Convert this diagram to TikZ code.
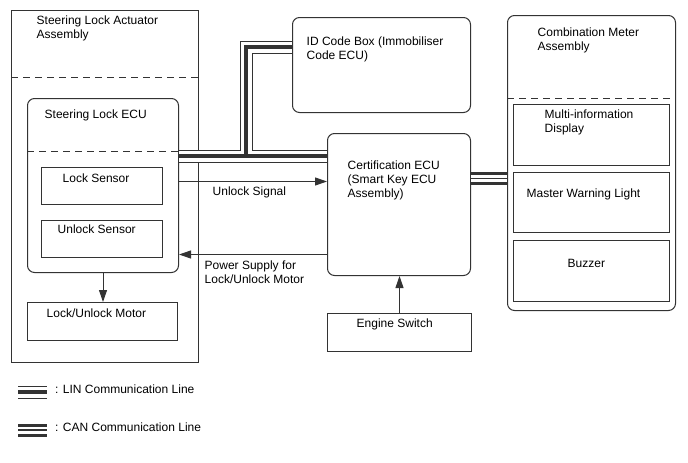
\documentclass[tikz,border=0pt]{standalone}
\usepackage{fontspec}
\setmainfont{Liberation Sans}
\usetikzlibrary{arrows.meta,calc}

\tikzset{
  box/.style={draw=black!80, line width=1pt, anchor=north west, inner sep=0pt},
  rbox/.style={box, rounded corners=7pt},
  txt/.style={anchor=north west, inner sep=0pt, align=left, font=\fontsize{12}{14}\selectfont},
  sig/.style={draw=black!80, line width=1pt, -{Triangle[length=12pt,width=8pt]}},
  sep/.style={draw=black!80, line width=1pt, dash pattern=on 7pt off 5pt},
  lin/.style={draw=black!80, line width=4pt,
    preaction={draw=black!80, line width=1pt, double=white, double distance=11pt}},
  can/.style={draw=black!80, line width=1.5pt,
    preaction={draw=black!80, line width=3pt, double=white, double distance=7pt}}
}

\begin{document}
\begin{tikzpicture}[x=1pt, y=-1pt]
    \useasboundingbox (0,0) rectangle (688,463);

    % --- Steering lock actuator assembly ---
    \node[box, minimum width=187pt, minimum height=352pt] (slaa) at (11,10) {};
    \node[txt] (slaa-t) at (36.5,16) {Steering Lock Actuator\\Assembly};
    \draw[sep] ([yshift=-67pt]slaa.north west) -- ([yshift=-67pt]slaa.north east);

    \node[rbox, minimum width=151pt, minimum height=174pt] (slecu) at (27,98) {};
    \node[txt] (slecu-t) at (44.5,110) {Steering Lock ECU};
    \draw[sep] ([yshift=-53pt]slecu.north west) -- ([yshift=-53pt]slecu.north east);

    \node[box, minimum width=121pt, minimum height=37pt] (lsens) at (41,167) {};
    \node[txt] (lsens-t) at (62.5,174) {Lock Sensor};
    \node[box, minimum width=121pt, minimum height=37pt] (usens) at (41,220) {};
    \node[txt] (usens-t) at (57.5,225) {Unlock Sensor};

    \node[box, minimum width=150pt, minimum height=38pt] (motor) at (27,302) {};
    \node[txt] (motor-t) at (46.5,309) {Lock/Unlock Motor};

    % --- ID code box and certification ECU ---
    \node[rbox, minimum width=178pt, minimum height=95pt] (idbox) at (292,17) {};
    \node[txt] (idbox-t) at (306.5,37) {ID Code Box (Immobiliser\\Code ECU)};

    \node[rbox, minimum width=143pt, minimum height=142pt] (certecu) at (327,133) {};
    \node[txt] (certecu-t) at (347.5,161) {Certification ECU\\(Smart Key ECU\\Assembly)};

    \node[box, minimum width=144pt, minimum height=38pt] (engsw) at (327,313) {};
    \node[txt] (engsw-t) at (356.5,319) {Engine Switch};

    % --- Combination meter ---
    \node[rbox, minimum width=168pt, minimum height=295pt] (cmeter) at (507,15) {};
    \node[txt] (cmeter-t) at (537.5,28) {Combination Meter\\Assembly};
    \draw[sep] ([yshift=-83pt]cmeter.north west) -- ([yshift=-83pt]cmeter.north east);

    \node[box, minimum width=156pt, minimum height=61pt] (mid) at (513,104) {};
    \node[txt] (mid-t) at (544.5,110) {Multi-information\\Display};
    \node[box, minimum width=156pt, minimum height=60pt] (mwl) at (513,172) {};
    \node[txt] (mwl-t) at (526.5,189) {Master Warning Light};
    \node[box, minimum width=156pt, minimum height=61pt] (buzz) at (513,240) {};
    \node[txt] (buzz-t) at (567.5,259) {Buzzer};

    % --- Signals ---
    \draw[sig] ([yshift=4pt]slecu.east) -- ([yshift=4pt]slecu.east -| certecu.west);
    \node[txt] (unlock-t) at (212.5,187) {Unlock Signal};
    \draw[sig] ([yshift=-69pt]slecu.east -| certecu.west) -- ([yshift=-69pt]slecu.east);
    \node[txt] (power-t) at (204.5,261) {Power Supply for\\Lock/Unlock Motor};
    \draw[sig] (slecu.south) -- (slecu.south |- motor.north);
    \draw[sig] (engsw.north) -- (engsw.north |- certecu.south);

    % --- Communication lines ---
    \coordinate (linj) at (246,156);
    \coordinate (linid) at (246,47);
    \draw[lin] (slecu.east |- linj) -- (certecu.west |- linj)
        (linj) -- (linid) -- (idbox.west |- linid);
    \draw[can] ([yshift=26pt]certecu.east) -- ([yshift=26pt]certecu.east -| cmeter.west);

    % --- Legend ---
    \node[txt] (lin-t) at (55,385) {: LIN Communication Line};
    \node[txt] (can-t) at (55,423) {: CAN Communication Line};
    \coordinate (linkey) at (18,392);
    \coordinate (cankey) at (18,430);
    \draw[lin] (linkey) -- ([xshift=-8pt]lin-t.west |- linkey);
    \draw[can] (cankey) -- ([xshift=-8pt]can-t.west |- cankey);

\end{tikzpicture}
\end{document}
